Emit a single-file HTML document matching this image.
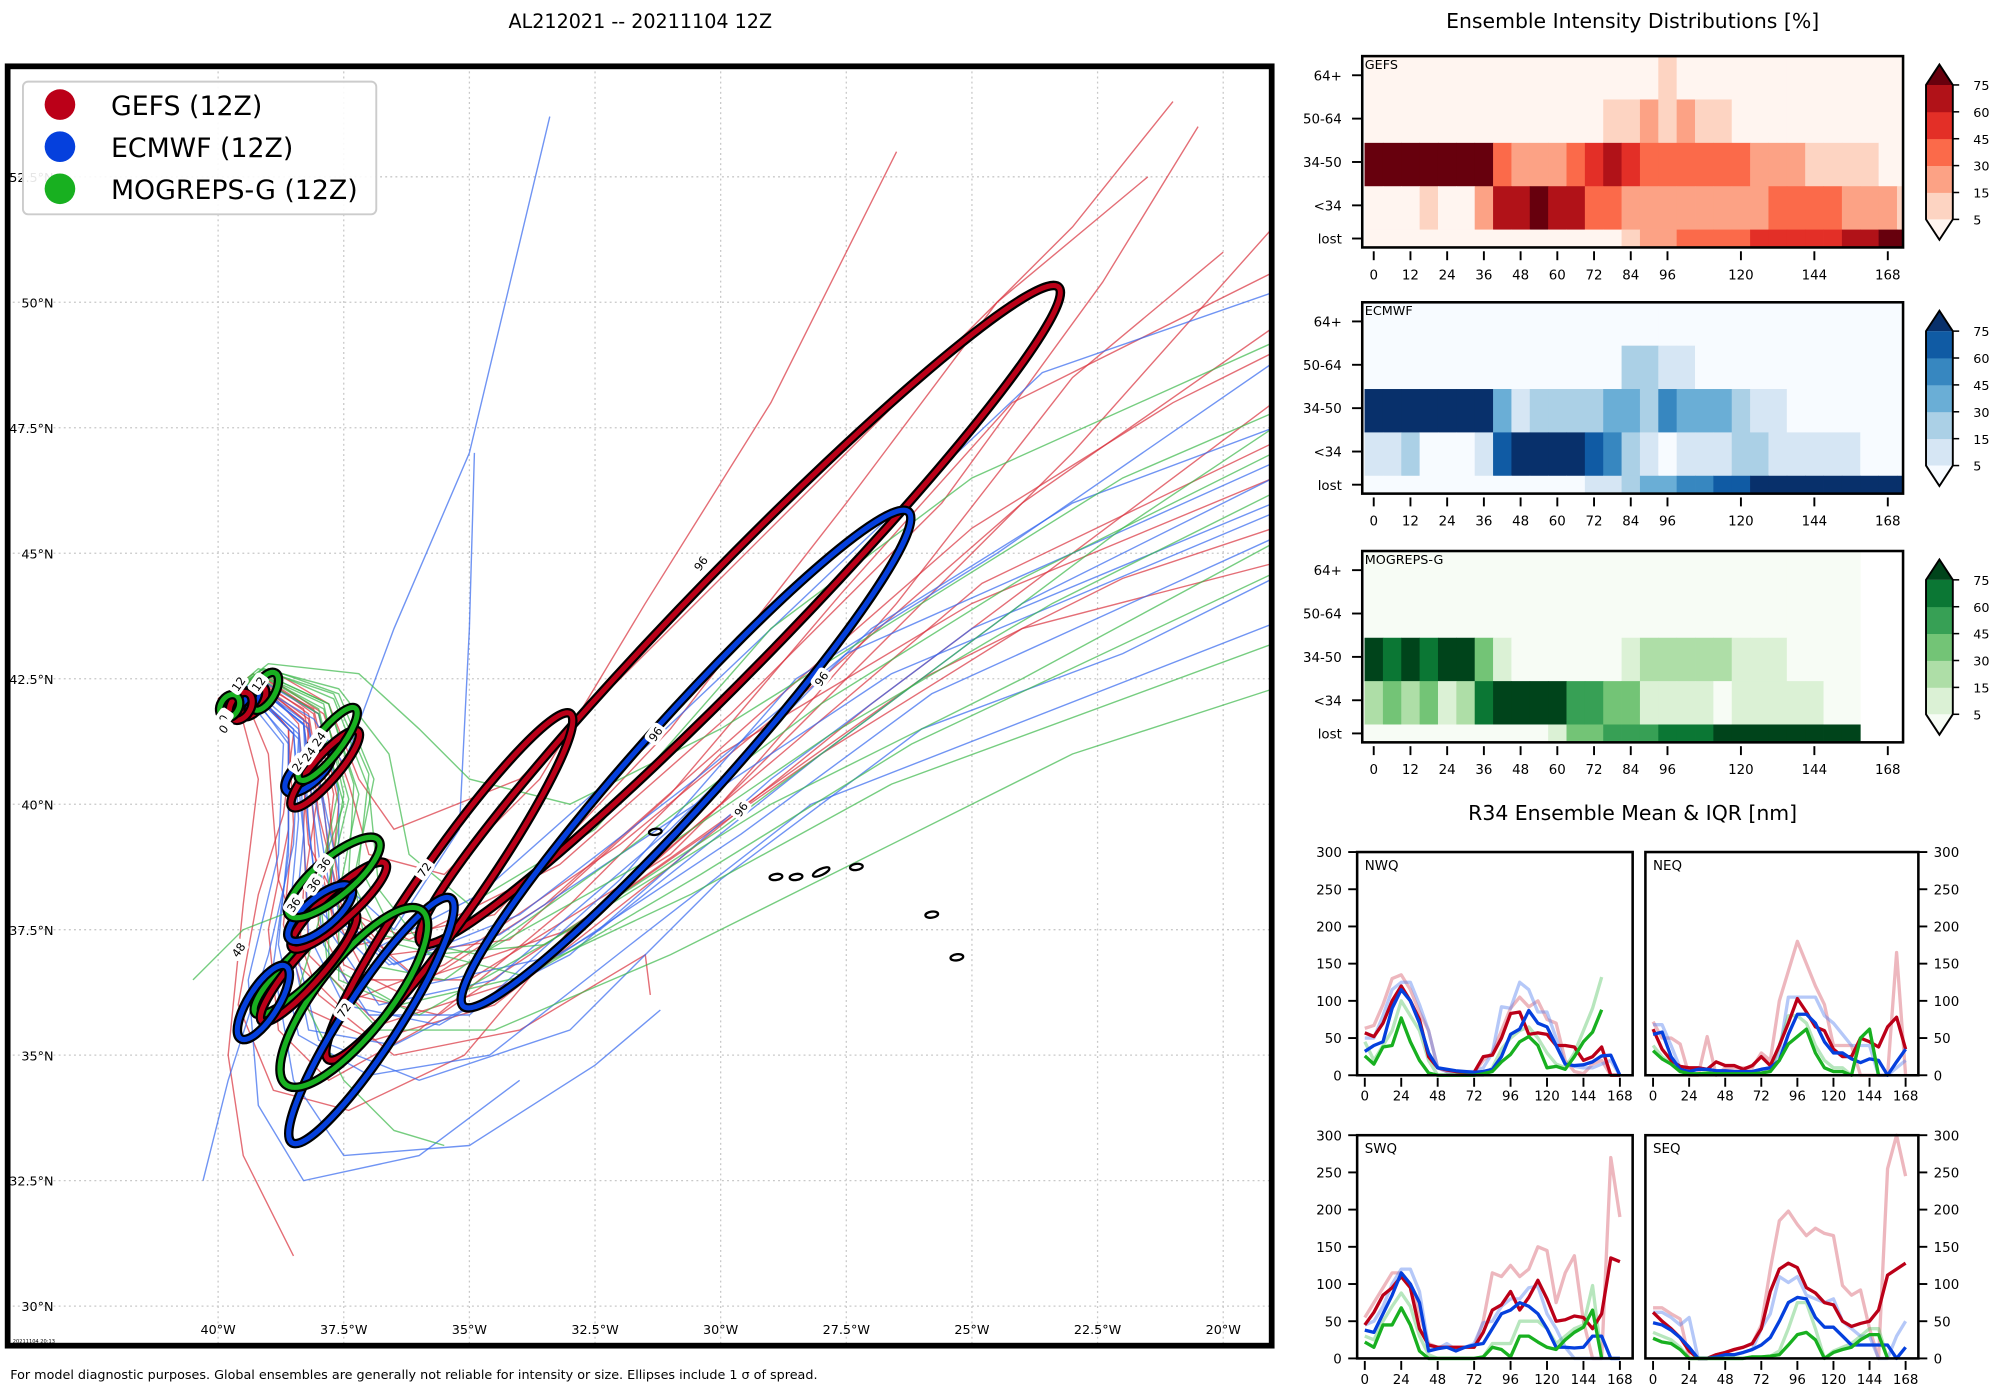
<!DOCTYPE html>
<html><head><meta charset="utf-8"><style>
html,body{margin:0;padding:0;background:#fff}
svg{display:block;font-family:"DejaVu Sans","Liberation Sans",sans-serif}
</style></head><body>
<svg id="root" xmlns="http://www.w3.org/2000/svg" width="2000" height="1400" viewBox="0 0 1568 1097.6" preserveAspectRatio="none">
<rect x="0" y="0" width="1568" height="1098" fill="#fff"/>
<defs><clipPath id="mapclip"><rect x="6" y="52" width="991" height="1003"/></clipPath></defs>
<text x="502" y="22" font-size="15" text-anchor="middle">AL212021 -- 20211104 12Z</text>
<text x="1280" y="22" font-size="16" text-anchor="middle">Ensemble Intensity Distributions [%]</text>
<text x="1280" y="643" font-size="16" text-anchor="middle">R34 Ensemble Mean &amp; IQR [nm]</text>
<text x="8" y="1081" font-size="10">For model diagnostic purposes. Global ensembles are generally not reliable for intensity or size. Ellipses include 1 σ of spread.</text>
<g id="map"></g>
<g id="heat"></g>
<g id="r34"></g>
</svg>
<script>
// ---------------- MAP DATA ----------------
const latTicks=[30,32.5,35,37.5,40,42.5,45,47.5,50,52.5];
const lonTicks=[-40,-37.5,-35,-32.5,-30,-27.5,-25,-22.5,-20];
const gefsTracks=[
[[-40,42.1],[-39.3,42.5],[-38.3,41.9],[-38.0,40.3],[-38.3,38.3],[-38.4,36.8],[-37.6,36.0],[-35.5,36.8],[-32,39.2],[-28,42.5],[-24,46],[-19,49.5]],
[[-40,42.1],[-39.2,42.6],[-38.0,41.8],[-37.6,40.0],[-37.8,38.0],[-37.0,36.5],[-35.0,36.5],[-31,39],[-27,43],[-23,47],[-19,51.5]],
[[-40,42.1],[-39.4,42.4],[-38.6,41.5],[-38.6,39.5],[-39.0,37.5],[-38.8,35.5],[-37.8,34.5],[-36,35.5],[-33,38],[-30,41],[-25,44],[-19,46.5]],
[[-40,42.1],[-39.0,42.7],[-37.8,42.0],[-37.2,40.5],[-36.5,39.5],[-34,40.5],[-31,43.5],[-27,47.5],[-23,51.5],[-21,54]],
[[-40,42.1],[-39.6,42],[-39.2,40.5],[-39.5,38],[-39.8,35],[-39.5,33],[-38.5,31]],
[[-40,42.1],[-39.3,42.5],[-38.2,41.7],[-38.0,39.8],[-37.5,37.8],[-36,36.5],[-33,37.5],[-29.5,40],[-26,42.5],[-22,44.5],[-19,45.5]],
[[-40,42.1],[-39.3,42.6],[-38.4,41.6],[-38.2,39.2],[-37.2,37.2],[-34.5,37.8],[-31,41.5],[-27.5,46],[-24.5,50],[-21.5,52.5]],
[[-40,42.1],[-39.5,42.2],[-39.0,41],[-38.8,38.5],[-38.0,36.2],[-36.5,35],[-34,35.5],[-31.5,37],[-31.4,36.2]],
[[-40,42.1],[-39.2,42.5],[-38.1,41.9],[-37.7,40.2],[-37.9,38.5],[-37.5,36.8],[-36.3,36.2],[-33.5,38],[-29,42],[-25,45.5],[-21,48],[-19,49]],
[[-40,42.1],[-39.3,42.5],[-38.2,41.6],[-38.3,39.5],[-38.2,37.0],[-36.8,35.6],[-34,36.5],[-30,40.0],[-26.5,44],[-23,48.5],[-20,51]],
[[-40,42.1],[-39.1,42.6],[-37.9,41.8],[-37.4,40.4],[-37.0,39.0],[-35.5,38.6],[-33.6,40.5],[-31.5,44],[-29,48],[-26.5,53]],
[[-40,42.1],[-39.4,42.4],[-38.5,41.4],[-38.7,39.8],[-39.2,38.2],[-39.6,36.0],[-38.9,34.3],[-37.4,33.9],[-35.1,35.0],[-33,37.5],[-28,41],[-24,43.5],[-19,44.8]],
[[-40,42.1],[-39.2,42.6],[-38.1,41.8],[-37.8,40.1],[-37.6,38.2],[-36.6,37.0],[-34.2,37.3],[-31.0,40.2],[-27.6,44.2],[-24.2,48.0],[-19,50.6]],
[[-40,42.1],[-39.3,42.5],[-38.3,41.7],[-38.1,39.7],[-38.0,37.6],[-37.3,36.2],[-35.6,35.8],[-32.6,37.8],[-28.8,41.0],[-24.8,44.4],[-19,47.2]],
[[-40,42.1],[-39.2,42.5],[-38.2,41.8],[-37.9,40.0],[-37.7,38.0],[-36.2,37.3],[-33.2,38.8],[-29.8,41.8],[-25.6,46.0],[-22.4,50.4],[-20.5,53.5]],
[[-40,42.1],[-39.4,42.4],[-38.6,41.5],[-38.5,39.6],[-38.7,37.6],[-38.2,35.9],[-36.9,35.3],[-34.5,36.0],[-31.2,38.6],[-27.0,42.0],[-19,48.0]]
];
const ecmwfTracks=[
[[-40,42],[-39.4,42.3],[-38.5,41.5],[-38.4,39.7],[-38.6,37.5],[-38.2,35.5],[-36.5,35.2],[-33,37],[-29,40.5],[-25,43.5],[-19,46]],
[[-40,42],[-39.5,42.2],[-38.7,41.2],[-38.8,39],[-39.4,36.5],[-39.2,34],[-38.3,32.5],[-36,33],[-34,34.5]],
[[-40,42],[-39.3,42.4],[-38.3,41.6],[-38.1,39.8],[-37.8,37.5],[-36.8,36],[-34.5,36.5],[-31,39.5],[-27,43.5],[-23,46],[-19,47.5]],
[[-40,42],[-39.3,42.4],[-38.1,41.7],[-37.5,40.8],[-36.5,43.5],[-35.0,47],[-33.4,53.7]],
[[-40,42],[-39.4,42.3],[-38.6,41.2],[-38.6,39],[-38.9,36.8],[-38.5,34.5],[-37.5,33],[-35,33.2],[-32.5,34.8],[-31.2,35.9]],
[[-40,42],[-39.3,42.4],[-38.2,41.6],[-37.9,39.9],[-37.6,37.8],[-36.5,36.8],[-34,37.8],[-30.5,40.5],[-27.5,43],[-23,45],[-19,46.8]],
[[-40,42],[-39.4,42.3],[-38.4,41.3],[-38.5,39.2],[-39,37],[-39.8,34.5],[-40.3,32.5]],
[[-40,42],[-39.3,42.4],[-38.3,41.6],[-38.2,39.5],[-37.9,37.2],[-37.0,35.8],[-35,35.8],[-32,38.5],[-28.5,42.5],[-24.5,45],[-19,48.8]],
[[-40,42],[-39.2,42.5],[-38.0,41.8],[-37.6,40.2],[-37.6,38.5],[-36.5,37.5],[-35.2,39.5],[-35.0,43.5],[-34.9,47]],
[[-40,42],[-39.4,42.3],[-38.5,41.4],[-38.3,39.4],[-38.5,37.3],[-38,35.3],[-36,34.5],[-33,35.5],[-30,38.5],[-26,41.5],[-22,43],[-19,44.5]],
[[-40,42],[-39.3,42.4],[-38.2,41.5],[-37.8,39.6],[-37.4,37.6],[-35.9,36.4],[-33.2,37.0],[-29.6,39.4],[-25.8,42.2],[-19,45.3]],
[[-40,42],[-39.3,42.3],[-38.4,41.5],[-38.2,39.6],[-38.0,37.9],[-37.1,37.0],[-34.8,38.2],[-31.2,41.4],[-27.2,45.2],[-23.6,48.6],[-19,50.2]],
[[-40,42],[-39.4,42.3],[-38.4,41.4],[-38.3,39.5],[-38.2,37.4],[-37.5,36.0],[-35.6,35.6],[-32.4,37.5],[-28.0,41.0],[-24.0,44.0],[-19,46.5]],
[[-40,42],[-39.3,42.4],[-38.3,41.6],[-38.0,39.7],[-37.7,37.8],[-36.6,36.8],[-34.4,37.4],[-30.8,39.8],[-26.6,42.6],[-19,45.8]],
[[-40,42],[-39.4,42.2],[-38.6,41.3],[-38.6,39.3],[-38.8,37.2],[-38.4,35.4],[-37.0,34.6],[-34.6,35.0],[-31.8,37.2],[-28.2,40.0],[-19,43.6]]
];
const mogTracks=[
[[-40,42],[-39.0,42.7],[-37.6,42.2],[-36.9,40.5],[-37.3,38.5],[-37.0,36.8],[-35.5,36.5],[-32,39],[-28,42],[-24,44.5],[-19,47]],
[[-40,42],[-39.1,42.6],[-37.8,42.0],[-37.2,40.2],[-37.6,38.2],[-37.6,36.5],[-36,35.8],[-33,37.5],[-29,40],[-24,42.5],[-19,45.2]],
[[-40,42],[-39.3,42.6],[-38.0,41.8],[-37.5,40],[-38.2,38],[-39.5,37.5],[-40.5,36.5]],
[[-40,42],[-39.0,42.8],[-37.2,42.6],[-36.0,41.5],[-35.0,40.5],[-33,40],[-30,41.5],[-26,44],[-22,46.5],[-19,47.8]],
[[-40,42],[-39.2,42.6],[-37.9,41.9],[-37.4,40.1],[-37.9,38],[-38.4,36.3],[-37.5,34.5],[-36.5,33.5],[-35.5,33.2]],
[[-40,42],[-39.1,42.7],[-37.7,42.1],[-37.0,40.3],[-36.8,38.3],[-35.8,37],[-33.5,37.2],[-30,39.5],[-26,42.5],[-22,45.5],[-19,47.5]],
[[-40,42],[-39.2,42.6],[-38.0,41.9],[-37.6,40.3],[-38,38.4],[-37.8,36.6],[-36.8,35.5],[-34.5,35.5],[-31,37],[-27,39],[-23,41],[-19,42.3]],
[[-40,42],[-39.1,42.7],[-37.6,42.3],[-36.6,41],[-36.2,39],[-35,38],[-32.5,39.5],[-29,43.5],[-25,46.5],[-19,49.2]],
[[-40,42],[-39.2,42.7],[-37.7,42.2],[-37.0,40.6],[-37.2,38.8],[-36.4,37.2],[-34.0,36.6],[-30.6,38.2],[-26.6,40.4],[-19,43.2]],
[[-40,42],[-39.1,42.6],[-37.8,42.0],[-37.3,40.4],[-37.4,38.6],[-36.8,37.4],[-34.8,37.0],[-31.6,38.8],[-27.8,41.4],[-23.4,44.0],[-19,46.2]],
[[-40,42],[-39.2,42.6],[-37.9,42.0],[-37.5,40.2],[-37.8,38.4],[-37.8,36.8],[-36.4,36.0],[-33.8,36.6],[-30.4,38.6],[-26.2,41.2],[-19,44.6]]
];
// ellipses: model, lon, lat, semi-major(deg), semi-minor(deg), angle
const ellModel=["g","e","g","e","m","m","g","e","g","e","m","e","g","m","e","g","m","e","g","m"];
const ellLon=[-29.62,-30.69,-35.4,-36.95,-37.3,-38.3,-38.2,-39.1,-37.6,-37.97,-37.7,-38.2,-37.87,-37.82,-39.35,-39.3,-39.07,-39.6,-39.55,-39.77];
const ellLat=[43.77,40.9,38.36,35.69,36.15,36.76,36.75,36.05,37.98,37.83,38.54,40.67,40.7,41.2,42.1,42.05,42.25,42.1,41.95,41.95];
const ellA=[9.1,6.62,4.2,2.9,2.2,1.33,1.42,0.85,1.25,0.8,1.16,0.6,1.0,0.9,0.2,0.35,0.42,0.22,0.3,0.25];
const ellB=[0.95,0.85,0.6,0.55,0.72,0.32,0.3,0.3,0.3,0.3,0.38,0.25,0.25,0.25,0.12,0.18,0.2,0.12,0.2,0.18];
const ellAng=[-45.8,-48,-55,-57,-52,-44,-49,-58,-42,-40,-40,-43,-49,-52,-40,-55,-60,-40,-60,-60];
const labText=["96","96","96","96","72","72","48","36","36","36","24","24","24","12","12","0","0"];
const labLon=[-30.4,-28.0,-31.3,-29.6,-35.9,-37.5,-39.6,-37.9,-38.5,-38.1,-38.0,-38.4,-38.2,-39.6,-39.2,-39.9,-39.9];
const labLat=[44.8,42.5,41.4,39.9,38.7,35.9,37.1,38.8,38.0,38.4,41.3,40.8,41.0,42.4,42.4,41.7,41.5];
const islandLon=[-31.3,-28.9,-28.5,-28.0,-27.3,-25.8,-25.3];
const islandLat=[39.45,38.55,38.55,38.65,38.75,37.8,36.95];
// ---------------- HEATMAP DATA ----------------
const hmRowLabels=["64+","50-64","34-50","<34","lost"];
const hmTicks=[0,12,24,36,48,60,72,84,96,120,144,168];
const cbTicks=[75,60,45,30,15,5];
const gefsHeat=[
[0,0,0,0,0,0,0,0,0,0,0,0,0,0,0,0,1,0,0,0,0,0,0,0,0,0,0,0,0,0],
[0,0,0,0,0,0,0,0,0,0,0,0,0,1,1,2,1,2,1,1,0,0,0,0,0,0,0,0,0,0],
[6,6,6,6,6,6,6,3,2,2,2,3,4,5,4,3,3,3,3,3,3,2,2,2,1,1,1,1,0,0],
[0,0,0,1,0,0,2,5,5,6,5,5,3,3,2,2,2,2,2,2,2,2,3,3,3,3,2,2,2,1],
[0,0,0,0,0,0,0,0,0,0,0,0,0,0,1,2,2,3,3,3,3,4,4,4,4,4,5,5,6,6]];
const ecmwfHeat=[
[0,0,0,0,0,0,0,0,0,0,0,0,0,0,0,0,0,0,0,0,0,0,0,0,0,0,0,0,0,0],
[0,0,0,0,0,0,0,0,0,0,0,0,0,0,2,2,1,1,0,0,0,0,0,0,0,0,0,0,0,0],
[6,6,6,6,6,6,6,3,1,2,2,2,2,3,3,2,4,3,3,3,2,1,1,0,0,0,0,0,0,0],
[1,1,2,0,0,0,1,5,6,6,6,6,5,4,2,1,0,1,1,1,2,2,1,1,1,1,1,0,0,0],
[0,0,0,0,0,0,0,0,0,0,0,0,1,1,2,3,3,4,4,5,5,6,6,6,6,6,6,6,6,6]];
const mogHeat=[
[0,0,0,0,0,0,0,0,0,0,0,0,0,0,0,0,0,0,0,0,0,0,0,0,0,0,0,-1,-1,-1],
[0,0,0,0,0,0,0,0,0,0,0,0,0,0,0,0,0,0,0,0,0,0,0,0,0,0,0,-1,-1,-1],
[6,5,6,5,6,6,3,1,0,0,0,0,0,0,1,2,2,2,2,2,1,1,1,0,0,0,0,-1,-1,-1],
[2,3,2,3,1,2,5,6,6,6,6,4,4,3,3,1,1,1,1,0,1,1,1,1,1,0,0,-1,-1,-1],
[0,0,0,0,0,0,0,0,0,0,1,3,3,4,4,4,5,5,5,6,6,6,6,6,6,6,6,-1,-1,-1]];
const redPal=["#fff5f0","#fdd4c2","#fca285","#fb6a4a","#e32f27","#b11218","#67000d"];
const bluePal=["#f7fbff","#d6e6f4","#abd0e6","#6aaed6","#3787c0","#105ba4","#08306b"];
const greenPal=["#f7fcf5","#dbf1d5","#aedea7","#73c476","#37a055","#0b7734","#00441b"];
// ---------------- R34 DATA (6-hourly from 0h) ----------------
const r34Ticks=[0,24,48,72,96,120,144,168];
const r34YTicks=[0,50,100,150,200,250,300];
const nwqGefs=[57,52,70,100,120,100,75,25,10,7,5,4,4,25,27,50,83,85,55,57,55,40,40,38,20,25,38,0,0];
const nwqEcm=[32,40,45,90,115,100,70,30,10,8,6,5,4,5,8,25,55,62,87,70,65,40,15,13,14,18,26,27,0];
const nwqMog=[26,15,38,40,77,45,20,3,0,0,0,0,0,2,5,18,28,45,52,40,10,12,8,25,45,58,88];
const nwqGefsQ=[63,67,95,130,135,115,85,60,10,5,4,4,4,20,30,60,90,105,92,100,75,70,20,5,2,15,20,0,0];
const nwqEcmQ=[50,50,80,115,125,125,95,60,10,5,5,5,5,10,30,92,90,125,115,85,85,50,15,12,10,10,15,20,0];
const nwqMogQ=[45,20,40,60,100,80,60,20,0,0,0,0,0,0,10,35,50,60,65,50,30,15,10,30,60,90,132];
const neqGefs=[62,35,20,12,10,10,8,18,13,13,8,13,25,13,40,70,103,85,65,60,35,25,25,50,45,38,65,78,35];
const neqEcm=[55,58,25,8,5,8,8,6,6,5,5,5,8,10,20,55,82,82,70,45,30,30,22,17,22,20,0,18,35];
const neqMog=[33,22,15,5,2,2,3,2,2,2,2,2,3,5,20,42,52,62,30,10,5,5,0,50,62,0];
const neqGefsQ=[72,50,50,42,0,0,52,0,10,10,10,10,30,20,100,140,180,150,120,95,40,40,40,0,0,0,0,165,0];
const neqEcmQ=[68,68,40,10,5,8,8,6,6,5,5,5,8,10,30,105,105,105,105,80,70,55,40,40,40,0,0,10,20];
const neqMogQ=[40,25,15,5,2,2,3,2,2,2,2,2,3,5,40,80,80,70,40,20,10,10,0,50,62,0];
const swqGefs=[45,62,85,95,110,95,40,18,15,15,15,15,15,35,65,72,90,65,82,105,80,50,52,57,55,40,60,135,130];
const swqEcm=[38,35,60,85,115,100,75,10,13,15,10,15,18,20,40,60,65,75,70,60,40,15,15,14,15,30,30,0,0];
const swqMog=[22,15,45,45,68,45,10,0,0,0,0,0,0,2,15,12,2,30,30,22,15,12,25,35,42,65,0];
const swqGefsQ=[55,75,95,115,115,100,60,20,15,15,15,15,15,50,115,110,125,110,120,150,145,75,115,138,50,0,0,270,190];
const swqEcmQ=[45,50,70,100,120,120,90,15,13,20,12,15,20,48,50,70,80,80,95,97,60,40,15,0,0,0,0,0,0];
const swqMogQ=[30,25,50,70,88,70,30,5,0,0,0,0,0,2,20,20,20,50,50,50,40,20,30,40,45,98,0];
const seqGefs=[62,50,40,28,10,0,0,5,8,12,15,20,40,90,120,128,122,95,88,75,72,50,43,47,50,65,112,120,128];
const seqEcm=[48,45,38,28,15,0,0,2,5,5,8,12,18,28,50,75,82,80,55,42,42,30,18,18,18,18,18,0,15];
const seqMog=[27,22,20,12,0,0,0,0,0,0,0,2,2,3,5,18,32,35,25,0,8,12,15,25,32,32,0];
const seqGefsQ=[68,68,60,53,0,0,0,5,8,12,15,20,45,120,185,198,180,165,175,168,165,98,85,92,40,0,255,300,245];
const seqEcmQ=[62,62,55,45,55,0,0,2,5,5,8,12,40,60,110,102,110,85,80,75,80,50,40,30,30,0,0,30,50];
const seqMogQ=[35,30,25,15,0,0,0,0,0,0,0,2,2,3,10,40,75,75,40,0,10,15,20,30,40,40,0];

const NS="http://www.w3.org/2000/svg";
function mk(tag,attrs,parent){const e=document.createElementNS(NS,tag);for(const k in attrs)e.setAttribute(k,attrs[k]);if(parent)parent.appendChild(e);return e;}
const RED="#bb0018",BLUE="#0540dd",GREEN="#18b020";
const modelColor={g:RED,e:BLUE,m:GREEN};

// ---------------- MAP ----------------
function lx(lon){return 171+(lon+40)*39.4}
function ly(lat){return 1024-(lat-30)*39.35}
const map=document.getElementById('map');
const inner=mk('g',{'clip-path':'url(#mapclip)'},map);


latTicks.forEach(v=>{
  const l=mk('line',{x1:6,x2:997,y1:ly(v),y2:ly(v),stroke:'#c8c8c8','stroke-width':1,'stroke-dasharray':'1.5,2.5'},inner);
  
  
  const t=mk('text',{x:42,y:ly(v)+4,'font-size':10,'text-anchor':'end'},inner);
  
  
  t.textContent=v+'°N';
});
lonTicks.forEach(v=>{
  const l=mk('line',{x1:lx(v),x2:lx(v),y1:52,y2:1055,stroke:'#c8c8c8','stroke-width':1,'stroke-dasharray':'1.5,2.5'},inner);
  
  
  const t=mk('text',{x:lx(v),y:1046,'font-size':10,'text-anchor':'middle'},inner);
  
  
  t.textContent=Math.abs(v)+'°W';
});
function drawTracks(tracks,color,name){
  tracks.forEach(tr=>{
    const p=mk('polyline',{points:tr.map(q=>lx(q[0])+','+ly(q[1])).join(' '),fill:'none',stroke:color,'stroke-width':1.1,'stroke-opacity':0.7},inner);
    
    
  });
}
drawTracks(gefsTracks,'#d8303c','gefs-track');
drawTracks(ecmwfTracks,'#3366ee','ecmwf-track');
drawTracks(mogTracks,'#3cb84a','mogreps-track');
islandLon.forEach((lo,i)=>{
  const e=mk('ellipse',{cx:lx(lo),cy:ly(islandLat[i]),rx:i==3?7:5,ry:2.4,fill:'none',stroke:'#000','stroke-width':1.8,transform:'rotate('+(i==3?-25:-8)+' '+lx(lo)+' '+ly(islandLat[i])+')'},inner);
  
  
});
ellLon.forEach((lo,i)=>{
  const cx=lx(lo),cy=ly(ellLat[i]),rx=ellA[i]*39.4,ry=ellB[i]*39.4;
  const tr='rotate('+ellAng[i]+' '+cx+' '+cy+')';
  const b=mk('ellipse',{cx,cy,rx,ry,fill:'none',stroke:'#000','stroke-width':7.5,transform:tr},inner);
  
  
  const c=mk('ellipse',{cx,cy,rx,ry,fill:'none',stroke:modelColor[ellModel[i]],'stroke-width':4,transform:tr},inner);
  
  
});
labText.forEach((s,i)=>{
  const x=lx(labLon[i]),y=ly(labLat[i]);
  const g=mk('g',{transform:'translate('+x+' '+y+') rotate(-55)'},inner);
  
  
  mk('rect',{x:-8,y:-6,width:16,height:12,rx:3,fill:'#fff'},g);
  const t=mk('text',{x:0,y:3.5,'font-size':9,'text-anchor':'middle'},g);
  t.textContent=s;
});
const stamp=mk('text',{x:10,y:1053,'font-size':4},inner);


stamp.textContent='20211104 20:13';
const frame=mk('rect',{x:6,y:52,width:991,height:1003,fill:'none',stroke:'#000','stroke-width':4.5},map);


// legend
const lg=mk('g',{},map);


mk('rect',{x:18,y:64,width:277,height:104,rx:4,fill:'#fff','fill-opacity':0.9,stroke:'#ccc','stroke-width':1.5},lg);
[['GEFS (12Z)',RED],['ECMWF (12Z)',BLUE],['MOGREPS-G (12Z)',GREEN]].forEach((d,i)=>{
  const e=mk('g',{},lg);
  
  
  mk('circle',{cx:47,cy:82+i*33,r:12,fill:d[1]},e);
  const t=mk('text',{x:87,y:90+i*33,'font-size':21},e);
  t.textContent=d[0];
});

// ---------------- HEATMAPS ----------------
const heat=document.getElementById('heat');
const HX0=1068,HX1=1492;
function hx(h){return 1077+h*2.399}
function drawHeat(data,pal,name,top){
  const g=mk('g',{},heat);
  
  
  const bottom=top+150;
  data.forEach((row,r)=>{
    row.forEach((lev,c)=>{
      if(lev<0)return;
      const h=c*6;
      let x0=Math.max(HX0,hx(h-3)),x1=Math.min(HX1,hx(h+3));
      let y0=top+r*34,y1=Math.min(bottom,top+(r+1)*34);
      const rc=mk('rect',{x:x0,y:y0,width:x1-x0+0.3,height:y1-y0+0.3,fill:pal[lev]},g);
      
      
    });
  });
  const fr=mk('rect',{x:HX0,y:top,width:HX1-HX0,height:150,fill:'none',stroke:'#000','stroke-width':2},g);
  
  
  const lab=mk('text',{x:HX0+2,y:top+10,'font-size':10},g);
  
  
  lab.textContent=name==='gefs'?'GEFS':name==='ecmwf'?'ECMWF':'MOGREPS-G';
  const rowY=[15,49,83,117,143];
  hmRowLabels.forEach((s,i)=>{
    mk('line',{x1:1060,x2:HX0,y1:top+rowY[i],y2:top+rowY[i],stroke:'#000','stroke-width':1.5},g);
    const t=mk('text',{x:1052,y:top+rowY[i]+4,'font-size':10.5,'text-anchor':'end'},g);
    
    
    t.textContent=s;
  });
  hmTicks.forEach(v=>{
    mk('line',{x1:hx(v),x2:hx(v),y1:bottom+3,y2:bottom+10,stroke:'#000','stroke-width':1.5},g);
    const t=mk('text',{x:hx(v),y:bottom+25,'font-size':10.5,'text-anchor':'middle'},g);
    
    
    t.textContent=v;
  });
  // colorbar
  const cb=mk('g',{},g);
  
  
  const cx0=1510,cx1=1531,cyT=top+22.6,cyB=top+128,bh=(cyB-cyT)/5;
  for(let k=1;k<=5;k++){mk('rect',{x:cx0,y:cyB-k*bh,width:cx1-cx0,height:bh+0.3,fill:pal[k]},cb);}
  mk('polygon',{points:cx0+','+cyT+' '+cx1+','+cyT+' '+(cx0+cx1)/2+','+(cyT-16),fill:pal[6]},cb);
  mk('polygon',{points:cx0+','+cyB+' '+cx1+','+cyB+' '+(cx0+cx1)/2+','+(cyB+16),fill:pal[0]},cb);
  mk('polygon',{points:cx0+','+cyT+' '+(cx0+cx1)/2+','+(cyT-16)+' '+cx1+','+cyT+' '+cx1+','+cyB+' '+(cx0+cx1)/2+','+(cyB+16)+' '+cx0+','+cyB,fill:'none',stroke:'#000','stroke-width':1.5},cb);
  cbTicks.forEach((v,k)=>{
    const y=cyT+k*bh;
    mk('line',{x1:cx1,x2:cx1+5,y1:y,y2:y,stroke:'#000','stroke-width':1.2},cb);
    const t=mk('text',{x:cx1+16,y:y+4,'font-size':10},cb);
    
    
    t.textContent=v;
  });
}
drawHeat(gefsHeat,redPal,'gefs',44);
drawHeat(ecmwfHeat,bluePal,'ecmwf',237);
drawHeat(mogHeat,greenPal,'mogreps',432);

// ---------------- R34 ----------------
const r34=document.getElementById('r34');
function drawR34(name,x0,x1,top,rightAxis,series){
  const g=mk('g',{},r34);
  
  
  const bottom=top+175;
  const t0=x0+6,t168=x1-10;
  const px=h=>t0+h*(t168-t0)/168, py=v=>bottom-v*175/300;
  const gid='c'+name;
  const cp=mk('clipPath',{id:gid},g);mk('rect',{x:x0,y:top-2,width:x1-x0,height:179},cp);
  const pg=mk('g',{'clip-path':'url(#'+gid+')'},g);
  series.forEach(s=>{
    const p=mk('polyline',{points:s.d.map((v,i)=>px(i*6)+','+py(v)).join(' '),fill:'none',stroke:s.c,'stroke-width':2.6,'stroke-opacity':s.o,'stroke-linejoin':'round'},pg);
    
    
  });
  const fr=mk('rect',{x:x0,y:top,width:x1-x0,height:175,fill:'none',stroke:'#000','stroke-width':2},g);
  
  
  const lab=mk('text',{x:x0+6,y:top+14,'font-size':10.5},g);
  
  
  lab.textContent=name;
  r34Ticks.forEach(v=>{
    mk('line',{x1:px(v),x2:px(v),y1:bottom+2,y2:bottom+9,stroke:'#000','stroke-width':1.5},g);
    const t=mk('text',{x:px(v),y:bottom+20,'font-size':10.5,'text-anchor':'middle'},g);
    
    
    t.textContent=v;
  });
  r34YTicks.forEach(v=>{
    const ax=rightAxis?x1:x0, d=rightAxis?1:-1;
    mk('line',{x1:ax,x2:ax+d*7,y1:py(v),y2:py(v),stroke:'#000','stroke-width':1.5},g);
    const t=mk('text',{x:rightAxis?ax+12:ax-12,y:py(v)+4,'font-size':10.5,'text-anchor':rightAxis?'start':'end'},g);
    
    
    t.textContent=v;
  });
}
function ser(gm,em,mm,gq,eq,mq){return[
  {d:gq,c:'#d8606e',o:0.45,n:'gefs-iqr-line'},{d:eq,c:'#5b85f0',o:0.45,n:'ecmwf-iqr-line'},{d:mq,c:'#4cc05a',o:0.4,n:'mogreps-iqr-line'},
  {d:gm,c:RED,o:1,n:'gefs-mean-line'},{d:em,c:BLUE,o:1,n:'ecmwf-mean-line'},{d:mm,c:GREEN,o:1,n:'mogreps-mean-line'}];}
drawR34('NWQ',1064,1280,668,false,ser(nwqGefs,nwqEcm,nwqMog,nwqGefsQ,nwqEcmQ,nwqMogQ));
drawR34('NEQ',1290,1504,668,true,ser(neqGefs,neqEcm,neqMog,neqGefsQ,neqEcmQ,neqMogQ));
drawR34('SWQ',1064,1280,890,false,ser(swqGefs,swqEcm,swqMog,swqGefsQ,swqEcmQ,swqMogQ));
drawR34('SEQ',1290,1504,890,true,ser(seqGefs,seqEcm,seqMog,seqGefsQ,seqEcmQ,seqMogQ));
</script>
</body></html>
